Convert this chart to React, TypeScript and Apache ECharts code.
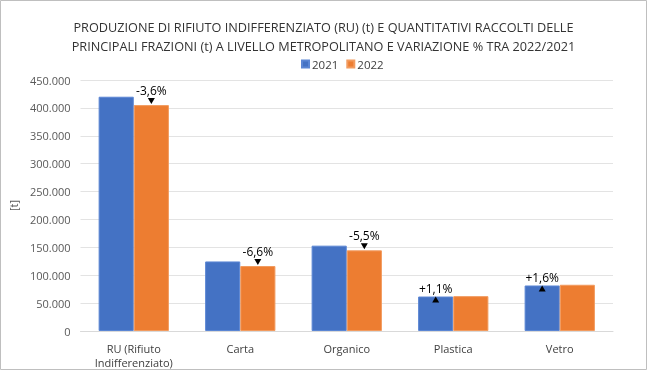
import React, { useEffect, useRef } from "react";
import * as echarts from "echarts";

const categories = ["RU (Rifiuto\nIndifferenziato)", "Carta", "Organico", "Plastica", "Vetro"];
const values2021 = [420000, 124700, 153000, 61800, 81600];
const values2022 = [405000, 116500, 144600, 62500, 82900];
const variations = ["-3,6%", "-6,6%", "-5,5%", "+1,1%", "+1,6%"];
const yTicks = { min: 0, max: 450000, interval: 50000 };

const FONT = "'Open Sans', 'Noto Sans', sans-serif";

export default function App() {
  const ref = useRef<HTMLDivElement>(null);
  useEffect(() => {
    document.body.style.margin = "0";
    const chart = echarts.init(ref.current!, null, { renderer: "svg" });
    const down: any[] = [];
    const up: any[] = [];
    variations.forEach((v, i) => {
      if (v.startsWith("-")) {
        down.push({
          coord: [i, values2022[i]],
          symbol: "triangle",
          symbolSize: [7, 6],
          symbolRotate: 180,
          symbolOffset: [0, -4],
          label: { show: true, formatter: v, position: "top", distance: 2 },
        });
      } else {
        up.push({
          coord: [i, values2021[i]],
          symbol: "triangle",
          symbolSize: [7, 6],
          symbolOffset: [0, 3],
          label: { show: true, formatter: v, position: "top", distance: 2 },
        });
      }
    });
    const mpStyle = {
      itemStyle: { color: "#000" },
      label: { color: "#000", fontSize: 12, fontFamily: FONT },
    };
    chart.setOption({
      animation: false,
      textStyle: { fontFamily: FONT },
      title: {
        text: "PRODUZIONE DI RIFIUTO INDIFFERENZIATO (RU) (t) E QUANTITATIVI RACCOLTI DELLE\nPRINCIPALI FRAZIONI (t) A LIVELLO METROPOLITANO E VARIAZIONE % TRA 2022/2021",
        left: "center",
        top: 12,
        textStyle: { fontSize: 12.7, fontWeight: "normal", color: "#333", lineHeight: 19, fontFamily: FONT },
      },
      legend: {
        top: 53,
        left: 296,
        itemWidth: 7,
        itemHeight: 7,
        itemGap: 8,
        icon: "rect",
        textStyle: { fontSize: 11.5, color: "#404040", padding: [0, 0, 0, -2] },
        data: ["2021", "2022"],
      },
      grid: { left: 80, right: 34, top: 80, bottom: 39 },
      xAxis: {
        type: "category",
        data: categories,
        axisLine: { lineStyle: { color: "#d9d9d9" } },
        axisTick: { show: false },
        axisLabel: { fontSize: 11, color: "#404040", margin: 10, lineHeight: 14 },
      },
      yAxis: {
        type: "value",
        min: yTicks.min,
        max: yTicks.max,
        interval: yTicks.interval,
        name: "[t]",
        nameLocation: "middle",
        nameGap: 56,
        nameTextStyle: { fontSize: 11, color: "#595959" },
        axisLabel: {
          fontSize: 11,
          color: "#595959",
          margin: 10,
          formatter: (v: number) => (v === 0 ? "0" : v.toLocaleString("it-IT").replace(/\s/g, ".")),
        },
        splitLine: { lineStyle: { color: "#e3e3e3" } },
      },
      graphic: [
        {
          type: "rect",
          shape: { x: 0.5, y: 0.5, width: 646, height: 369 },
          style: { fill: "none", stroke: "#bfbfbf", lineWidth: 1 },
          silent: true,
        },
      ],
      series: [
        {
          name: "2021",
          type: "bar",
          data: values2021,
          barGap: "0%",
          barCategoryGap: "34%",
          itemStyle: { color: "#4472C4", borderColor: "#5b86d4", borderWidth: 1 },
          markPoint: { data: up, ...mpStyle },
        },
        {
          name: "2022",
          type: "bar",
          data: values2022,
          barGap: "0%",
          barCategoryGap: "34%",
          itemStyle: { color: "#ED7D31", borderColor: "#f29b5f", borderWidth: 1 },
          markPoint: { data: down, ...mpStyle },
        },
      ],
    });
    return () => chart.dispose();
  }, []);
  return <div ref={ref} style={{ position: "fixed", left: 0, top: 0, width: 647, height: 370 }} />;
}
